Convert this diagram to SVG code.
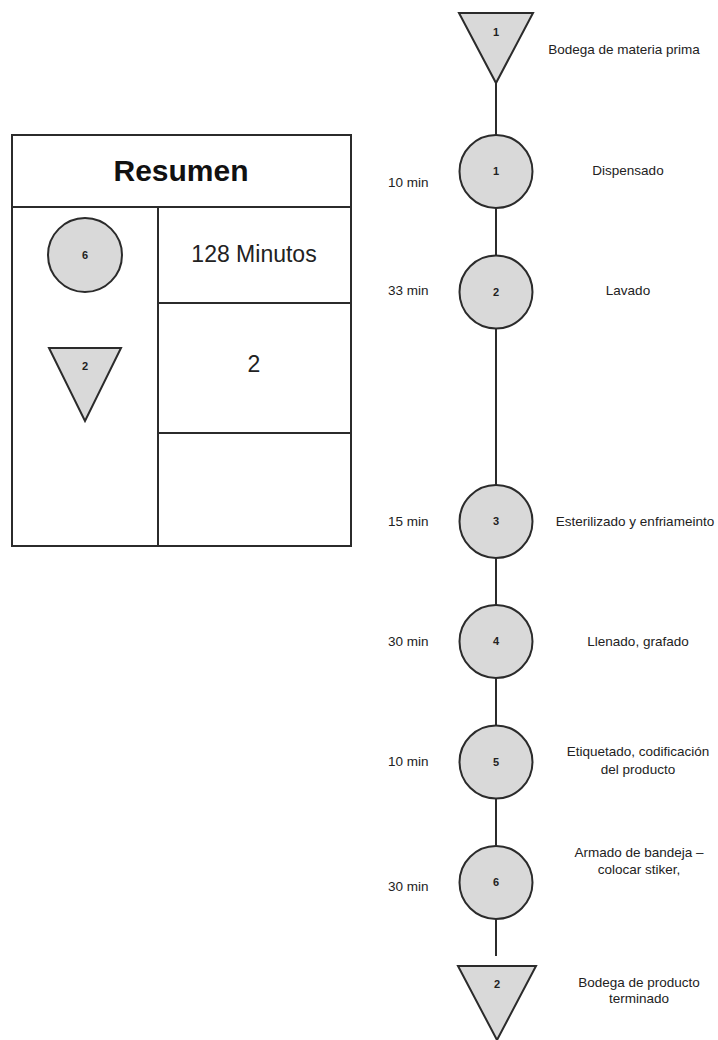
<svg xmlns="http://www.w3.org/2000/svg" width="718" height="1040" viewBox="0 0 718 1040">
  <style>
    .shape { fill: #d9d9d9; stroke: #2b2b2b; stroke-width: 2; }
    .cell { fill: none; stroke: #2b2b2b; stroke-width: 2; }
    .link { stroke: #2b2b2b; stroke-width: 2; fill: none; }
    .num { font-family: "Liberation Sans", Arial, sans-serif; font-size: 11px; font-weight: bold; fill: #222; text-anchor: middle; }
    .lbl { font-family: "Liberation Sans", Arial, sans-serif; font-size: 13.5px; fill: #222; text-anchor: middle; }
    .time { font-family: "Liberation Sans", Arial, sans-serif; font-size: 13.5px; fill: #222; }
    .big { font-family: "Liberation Sans", Arial, sans-serif; font-size: 23px; fill: #222; text-anchor: middle; }
    .title { font-family: "Liberation Sans", Arial, sans-serif; font-size: 30px; font-weight: bold; fill: #111; text-anchor: middle; }
  </style>
  <rect width="718" height="1040" fill="#ffffff"/>

  <!-- summary table -->
  <g id="resumen">
    <rect class="cell" x="12" y="135" width="339" height="411"/>
    <line class="cell" x1="12" y1="207" x2="351" y2="207"/>
    <line class="cell" x1="158" y1="207" x2="158" y2="546"/>
    <line class="cell" x1="158" y1="303" x2="351" y2="303"/>
    <line class="cell" x1="158" y1="433" x2="351" y2="433"/>
    <text class="title" x="181" y="181">Resumen</text>
    <circle class="shape" cx="85" cy="255" r="37"/>
    <text class="num" x="85" y="259">6</text>
    <polygon class="shape" points="49,348 121,348 85,421"/>
    <text class="num" x="85" y="370">2</text>
    <text class="big" x="254" y="262">128 Minutos</text>
    <text class="big" x="254" y="372">2</text>
  </g>

  <!-- connectors -->
  <g id="connectors">
    <line class="link" x1="496" y1="83" x2="496" y2="135"/>
    <line class="link" x1="496" y1="208" x2="496" y2="255"/>
    <line class="link" x1="496" y1="329" x2="496" y2="485"/>
    <line class="link" x1="496" y1="558" x2="496" y2="605"/>
    <line class="link" x1="496" y1="678" x2="496" y2="725"/>
    <line class="link" x1="496" y1="799" x2="496" y2="846"/>
    <line class="link" x1="496" y1="919" x2="496" y2="956"/>
  </g>

  <!-- storage: raw material -->
  <g id="bodega-1">
    <polygon class="shape" points="459,13 533,13 496,83"/>
    <text class="num" x="496" y="36">1</text>
    <text class="lbl" x="624" y="54">Bodega de materia prima</text>
  </g>

  <g id="op-1">
    <circle class="shape" cx="496" cy="171.5" r="36.5"/>
    <text class="num" x="496" y="175">1</text>
    <text class="time" x="388" y="187">10 min</text>
    <text class="lbl" x="628" y="175">Dispensado</text>
  </g>

  <g id="op-2">
    <circle class="shape" cx="496" cy="292" r="36.5"/>
    <text class="num" x="496" y="296">2</text>
    <text class="time" x="388" y="295">33 min</text>
    <text class="lbl" x="628" y="295">Lavado</text>
  </g>

  <g id="op-3">
    <circle class="shape" cx="496" cy="521.5" r="36.5"/>
    <text class="num" x="496" y="525">3</text>
    <text class="time" x="388" y="526">15 min</text>
    <text class="lbl" x="635" y="526">Esterilizado y enfriameinto</text>
  </g>

  <g id="op-4">
    <circle class="shape" cx="496" cy="641.5" r="36.5"/>
    <text class="num" x="496" y="645">4</text>
    <text class="time" x="388" y="646">30 min</text>
    <text class="lbl" x="638" y="646">Llenado, grafado</text>
  </g>

  <g id="op-5">
    <circle class="shape" cx="496" cy="762" r="36.5"/>
    <text class="num" x="496" y="766">5</text>
    <text class="time" x="388" y="766">10 min</text>
    <text class="lbl" x="638" y="756">Etiquetado, codificación</text>
    <text class="lbl" x="638" y="774">del producto</text>
  </g>

  <g id="op-6">
    <circle class="shape" cx="496" cy="882.5" r="36.5"/>
    <text class="num" x="496" y="886">6</text>
    <text class="time" x="388" y="891">30 min</text>
    <text class="lbl" x="639" y="857">Armado de bandeja –</text>
    <text class="lbl" x="639" y="874">colocar stiker,</text>
  </g>

  <!-- storage: finished product -->
  <g id="bodega-2">
    <polygon class="shape" points="458,966 536,966 497,1040"/>
    <text class="num" x="497" y="988">2</text>
    <text class="lbl" x="639" y="987">Bodega de producto</text>
    <text class="lbl" x="639" y="1003">terminado</text>
  </g>
</svg>
